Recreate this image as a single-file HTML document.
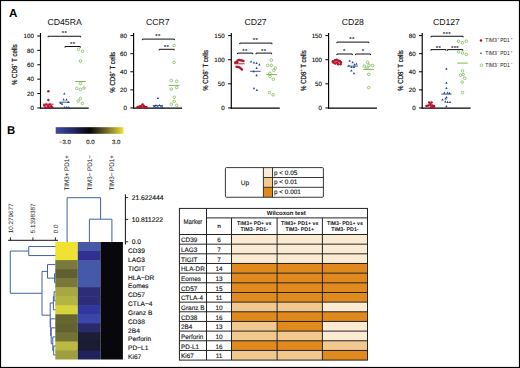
<!DOCTYPE html><html><head><meta charset="utf-8"><style>html,body{margin:0;padding:0;background:#fff;}svg{display:block;} text{text-rendering:geometricPrecision;}</style></head><body>
<svg width="520" height="368" viewBox="0 0 520 368" font-family='"Liberation Sans", sans-serif'>
<rect width="520" height="368" fill="#fff"/>
<text x="9" y="17.3" font-size="11.6" text-anchor="start" font-weight="bold" fill="#000" >A</text>
<line x1="40.5" y1="33" x2="40.5" y2="108.65" stroke="#000" stroke-width="1.15"/>
<line x1="40" y1="108.1" x2="88.75" y2="108.1" stroke="#000" stroke-width="1.4"/>
<line x1="37.3" y1="107.95" x2="40.5" y2="107.95" stroke="#000" stroke-width="1"/>
<text x="33.9" y="110.15" font-size="6.2" text-anchor="end" font-weight="normal" fill="#111" stroke="#111" stroke-width="0.14" >0</text>
<line x1="37.3" y1="93.56" x2="40.5" y2="93.56" stroke="#000" stroke-width="1"/>
<text x="33.9" y="95.76" font-size="6.2" text-anchor="end" font-weight="normal" fill="#111" stroke="#111" stroke-width="0.14" >20</text>
<line x1="37.3" y1="79.17" x2="40.5" y2="79.17" stroke="#000" stroke-width="1"/>
<text x="33.9" y="81.37" font-size="6.2" text-anchor="end" font-weight="normal" fill="#111" stroke="#111" stroke-width="0.14" >40</text>
<line x1="37.3" y1="64.78" x2="40.5" y2="64.78" stroke="#000" stroke-width="1"/>
<text x="33.9" y="66.98" font-size="6.2" text-anchor="end" font-weight="normal" fill="#111" stroke="#111" stroke-width="0.14" >60</text>
<line x1="37.3" y1="50.39" x2="40.5" y2="50.39" stroke="#000" stroke-width="1"/>
<text x="33.9" y="52.59" font-size="6.2" text-anchor="end" font-weight="normal" fill="#111" stroke="#111" stroke-width="0.14" >80</text>
<line x1="37.3" y1="36" x2="40.5" y2="36" stroke="#000" stroke-width="1"/>
<text x="33.9" y="38.2" font-size="6.2" text-anchor="end" font-weight="normal" fill="#111" stroke="#111" stroke-width="0.14" >100</text>
<text x="64.62" y="24.6" font-size="8.7" text-anchor="middle" font-weight="normal" fill="#111" >CD45RA</text>
<text transform="translate(17.1,64.7) rotate(-90)" font-size="7.4" text-anchor="middle" fill="#111" stroke="#111" stroke-width="0.18" textLength="40.8" lengthAdjust="spacingAndGlyphs">% CD8<tspan font-size="4.6" dy="-2.8">+</tspan><tspan dy="2.8"> T cells</tspan></text>
<path d="M48.1,37.35 V36.25 H80.6 V37.35" fill="none" stroke="#111" stroke-width="1"/>
<text x="64.6" y="35.2" font-size="6" text-anchor="middle" font-weight="bold" fill="#222" letter-spacing="0.4">**</text>
<path d="M65,47.6 V46.5 H80.3 V47.6" fill="none" stroke="#111" stroke-width="1"/>
<text x="72.8" y="45.55" font-size="6" text-anchor="middle" font-weight="bold" fill="#222" letter-spacing="0.4">**</text>
<circle cx="48.35" cy="91.3" r="1.25" fill="#b5102b"/>
<circle cx="48.35" cy="100" r="1.25" fill="#b5102b"/>
<circle cx="44.3" cy="105.6" r="1.25" fill="#b5102b"/>
<circle cx="46.3" cy="104.4" r="1.25" fill="#b5102b"/>
<circle cx="48.2" cy="106" r="1.25" fill="#b5102b"/>
<circle cx="49.8" cy="104.6" r="1.25" fill="#b5102b"/>
<circle cx="51.3" cy="106.3" r="1.25" fill="#b5102b"/>
<circle cx="52.3" cy="107.4" r="1.25" fill="#b5102b"/>
<circle cx="45.3" cy="107.4" r="1.25" fill="#b5102b"/>
<circle cx="47.5" cy="107.6" r="1.25" fill="#b5102b"/>
<circle cx="50" cy="107.6" r="1.25" fill="#b5102b"/>
<line x1="43" y1="104.2" x2="53.6" y2="104.2" stroke="#b5102b" stroke-width="0.9"/>
<path d="M64.3,92.4 L65.5,94.6 L63.1,94.6 Z" fill="#244a92"/>
<path d="M63.6,98.3 L64.8,100.5 L62.4,100.5 Z" fill="#244a92"/>
<path d="M66.5,98.3 L67.7,100.5 L65.3,100.5 Z" fill="#244a92"/>
<path d="M68.2,100.7 L69.4,102.9 L67,102.9 Z" fill="#244a92"/>
<path d="M60.6,101.8 L61.8,104 L59.4,104 Z" fill="#244a92"/>
<path d="M62,102.6 L63.2,104.8 L60.8,104.8 Z" fill="#244a92"/>
<path d="M64.7,106.1 L65.9,108.3 L63.5,108.3 Z" fill="#244a92"/>
<path d="M66.7,106.1 L67.9,108.3 L65.5,108.3 Z" fill="#244a92"/>
<path d="M68.8,106.1 L70,108.3 L67.6,108.3 Z" fill="#244a92"/>
<line x1="59.2" y1="102.2" x2="69.8" y2="102.2" stroke="#244a92" stroke-width="0.9"/>
<circle cx="78.5" cy="49.3" r="1.3" fill="none" stroke="#72b244" stroke-width="0.7"/>
<circle cx="82.5" cy="51.3" r="1.3" fill="none" stroke="#72b244" stroke-width="0.7"/>
<circle cx="80.4" cy="61.1" r="1.3" fill="none" stroke="#72b244" stroke-width="0.7"/>
<circle cx="80.4" cy="83.4" r="1.3" fill="none" stroke="#72b244" stroke-width="0.7"/>
<circle cx="76.8" cy="88.3" r="1.3" fill="none" stroke="#72b244" stroke-width="0.7"/>
<circle cx="80.4" cy="89.4" r="1.3" fill="none" stroke="#72b244" stroke-width="0.7"/>
<circle cx="84" cy="88" r="1.3" fill="none" stroke="#72b244" stroke-width="0.7"/>
<circle cx="80.4" cy="98.5" r="1.3" fill="none" stroke="#72b244" stroke-width="0.7"/>
<circle cx="78.2" cy="101.1" r="1.3" fill="none" stroke="#72b244" stroke-width="0.7"/>
<circle cx="82.4" cy="103.3" r="1.3" fill="none" stroke="#72b244" stroke-width="0.7"/>
<line x1="75.2" y1="81.5" x2="85.8" y2="81.5" stroke="#72b244" stroke-width="0.9"/>
<line x1="133.6" y1="33" x2="133.6" y2="108.65" stroke="#000" stroke-width="1.15"/>
<line x1="133.1" y1="108.1" x2="182.1" y2="108.1" stroke="#000" stroke-width="1.4"/>
<line x1="130.4" y1="107.95" x2="133.6" y2="107.95" stroke="#000" stroke-width="1"/>
<text x="127" y="110.15" font-size="6.2" text-anchor="end" font-weight="normal" fill="#111" stroke="#111" stroke-width="0.14" >0</text>
<line x1="130.4" y1="89.86" x2="133.6" y2="89.86" stroke="#000" stroke-width="1"/>
<text x="127" y="92.06" font-size="6.2" text-anchor="end" font-weight="normal" fill="#111" stroke="#111" stroke-width="0.14" >20</text>
<line x1="130.4" y1="71.78" x2="133.6" y2="71.78" stroke="#000" stroke-width="1"/>
<text x="127" y="73.98" font-size="6.2" text-anchor="end" font-weight="normal" fill="#111" stroke="#111" stroke-width="0.14" >40</text>
<line x1="130.4" y1="53.69" x2="133.6" y2="53.69" stroke="#000" stroke-width="1"/>
<text x="127" y="55.89" font-size="6.2" text-anchor="end" font-weight="normal" fill="#111" stroke="#111" stroke-width="0.14" >60</text>
<line x1="130.4" y1="35.6" x2="133.6" y2="35.6" stroke="#000" stroke-width="1"/>
<text x="127" y="37.8" font-size="6.2" text-anchor="end" font-weight="normal" fill="#111" stroke="#111" stroke-width="0.14" >80</text>
<text x="157.85" y="24.6" font-size="8.7" text-anchor="middle" font-weight="normal" fill="#111" >CCR7</text>
<text transform="translate(114.9,72.3) rotate(-90)" font-size="7.4" text-anchor="middle" fill="#111" stroke="#111" stroke-width="0.18" textLength="40.8" lengthAdjust="spacingAndGlyphs">% CD8<tspan font-size="4.6" dy="-2.8">+</tspan><tspan dy="2.8"> T cells</tspan></text>
<path d="M142.4,40.2 V39.1 H174.4 V40.2" fill="none" stroke="#111" stroke-width="1"/>
<text x="158.1" y="37.9" font-size="6" text-anchor="middle" font-weight="bold" fill="#222" letter-spacing="0.4">**</text>
<path d="M159.2,50.4 V49.3 H174.2 V50.4" fill="none" stroke="#111" stroke-width="1"/>
<text x="166.4" y="48.6" font-size="6" text-anchor="middle" font-weight="bold" fill="#222" letter-spacing="0.4">**</text>
<circle cx="137.6" cy="107" r="1.25" fill="#b5102b"/>
<circle cx="139.5" cy="106.4" r="1.25" fill="#b5102b"/>
<circle cx="141.2" cy="106" r="1.25" fill="#b5102b"/>
<circle cx="142.6" cy="104.4" r="1.25" fill="#b5102b"/>
<circle cx="143.8" cy="106" r="1.25" fill="#b5102b"/>
<circle cx="145.2" cy="107" r="1.25" fill="#b5102b"/>
<circle cx="146.5" cy="107.2" r="1.25" fill="#b5102b"/>
<circle cx="140.5" cy="107.5" r="1.25" fill="#b5102b"/>
<circle cx="144.5" cy="107.6" r="1.25" fill="#b5102b"/>
<line x1="136.9" y1="107" x2="146.9" y2="107" stroke="#b5102b" stroke-width="0.9"/>
<path d="M157.9,96.8 L159.1,99 L156.7,99 Z" fill="#244a92"/>
<path d="M154.3,105 L155.5,107.2 L153.1,107.2 Z" fill="#244a92"/>
<path d="M156,104 L157.2,106.2 L154.8,106.2 Z" fill="#244a92"/>
<path d="M157.8,105.5 L159,107.7 L156.6,107.7 Z" fill="#244a92"/>
<path d="M159.5,103.9 L160.7,106.1 L158.3,106.1 Z" fill="#244a92"/>
<path d="M161,105.2 L162.2,107.4 L159.8,107.4 Z" fill="#244a92"/>
<path d="M162.3,105.9 L163.5,108.1 L161.1,108.1 Z" fill="#244a92"/>
<path d="M155.5,106.2 L156.7,108.4 L154.3,108.4 Z" fill="#244a92"/>
<line x1="152.8" y1="105.6" x2="163" y2="105.6" stroke="#244a92" stroke-width="0.9"/>
<circle cx="174.1" cy="45.5" r="1.3" fill="none" stroke="#72b244" stroke-width="0.7"/>
<circle cx="174.1" cy="62.4" r="1.3" fill="none" stroke="#72b244" stroke-width="0.7"/>
<circle cx="171.3" cy="80.5" r="1.3" fill="none" stroke="#72b244" stroke-width="0.7"/>
<circle cx="176.7" cy="81.3" r="1.3" fill="none" stroke="#72b244" stroke-width="0.7"/>
<circle cx="171.3" cy="89.1" r="1.3" fill="none" stroke="#72b244" stroke-width="0.7"/>
<circle cx="176.7" cy="87.5" r="1.3" fill="none" stroke="#72b244" stroke-width="0.7"/>
<circle cx="174.2" cy="97.3" r="1.3" fill="none" stroke="#72b244" stroke-width="0.7"/>
<circle cx="174.2" cy="101.4" r="1.3" fill="none" stroke="#72b244" stroke-width="0.7"/>
<circle cx="171.3" cy="104.2" r="1.3" fill="none" stroke="#72b244" stroke-width="0.7"/>
<circle cx="176.7" cy="105.3" r="1.3" fill="none" stroke="#72b244" stroke-width="0.7"/>
<line x1="168.8" y1="85.4" x2="179.5" y2="85.4" stroke="#72b244" stroke-width="0.9"/>
<line x1="231.3" y1="33" x2="231.3" y2="108.65" stroke="#000" stroke-width="1.15"/>
<line x1="230.8" y1="108.1" x2="279.75" y2="108.1" stroke="#000" stroke-width="1.4"/>
<line x1="228.1" y1="107.95" x2="231.3" y2="107.95" stroke="#000" stroke-width="1"/>
<text x="224.7" y="110.15" font-size="6.2" text-anchor="end" font-weight="normal" fill="#111" stroke="#111" stroke-width="0.14" >0</text>
<line x1="228.1" y1="83.83" x2="231.3" y2="83.83" stroke="#000" stroke-width="1"/>
<text x="224.7" y="86.03" font-size="6.2" text-anchor="end" font-weight="normal" fill="#111" stroke="#111" stroke-width="0.14" >50</text>
<line x1="228.1" y1="59.72" x2="231.3" y2="59.72" stroke="#000" stroke-width="1"/>
<text x="224.7" y="61.92" font-size="6.2" text-anchor="end" font-weight="normal" fill="#111" stroke="#111" stroke-width="0.14" >100</text>
<line x1="228.1" y1="35.6" x2="231.3" y2="35.6" stroke="#000" stroke-width="1"/>
<text x="224.7" y="37.8" font-size="6.2" text-anchor="end" font-weight="normal" fill="#111" stroke="#111" stroke-width="0.14" >150</text>
<text x="255.53" y="24.6" font-size="8.7" text-anchor="middle" font-weight="normal" fill="#111" >CD27</text>
<text transform="translate(208.2,70.4) rotate(-90)" font-size="7.4" text-anchor="middle" fill="#111" stroke="#111" stroke-width="0.18" textLength="40.8" lengthAdjust="spacingAndGlyphs">% CD8<tspan font-size="4.6" dy="-2.8">+</tspan><tspan dy="2.8"> T cells</tspan></text>
<path d="M239.8,44.2 V43.1 H271.9 V44.2" fill="none" stroke="#111" stroke-width="1"/>
<text x="255.6" y="42.05" font-size="6" text-anchor="middle" font-weight="bold" fill="#222" letter-spacing="0.4">**</text>
<path d="M237.5,54.2 V53.1 H252.8 V54.2" fill="none" stroke="#111" stroke-width="1"/>
<text x="245" y="52.8" font-size="6" text-anchor="middle" font-weight="bold" fill="#222" letter-spacing="0.4">**</text>
<path d="M256,54.2 V53.1 H271.6 V54.2" fill="none" stroke="#111" stroke-width="1"/>
<text x="263.8" y="52.8" font-size="6" text-anchor="middle" font-weight="bold" fill="#222" letter-spacing="0.4">**</text>
<circle cx="237.6" cy="60.4" r="1.25" fill="#b5102b"/>
<circle cx="239" cy="60.1" r="1.25" fill="#b5102b"/>
<circle cx="240.5" cy="60.2" r="1.25" fill="#b5102b"/>
<circle cx="242" cy="60.5" r="1.25" fill="#b5102b"/>
<circle cx="243.4" cy="61" r="1.25" fill="#b5102b"/>
<circle cx="235.3" cy="62.6" r="1.25" fill="#b5102b"/>
<circle cx="236.3" cy="62.2" r="1.25" fill="#b5102b"/>
<circle cx="237.2" cy="62.6" r="1.25" fill="#b5102b"/>
<circle cx="236.6" cy="66.7" r="1.25" fill="#b5102b"/>
<circle cx="238" cy="67" r="1.25" fill="#b5102b"/>
<circle cx="239.5" cy="67.5" r="1.25" fill="#b5102b"/>
<circle cx="240.8" cy="68.4" r="1.25" fill="#b5102b"/>
<circle cx="241.9" cy="69.5" r="1.25" fill="#b5102b"/>
<line x1="234.4" y1="63.8" x2="244.7" y2="63.8" stroke="#b5102b" stroke-width="0.9"/>
<path d="M251.1,60.3 L252.3,62.5 L249.9,62.5 Z" fill="#244a92"/>
<path d="M253.9,61.3 L255.1,63.5 L252.7,63.5 Z" fill="#244a92"/>
<path d="M256.6,61.8 L257.8,64 L255.4,64 Z" fill="#244a92"/>
<path d="M259.4,63.2 L260.6,65.4 L258.2,65.4 Z" fill="#244a92"/>
<path d="M256.6,66.7 L257.8,68.9 L255.4,68.9 Z" fill="#244a92"/>
<path d="M253.7,70 L254.9,72.2 L252.5,72.2 Z" fill="#244a92"/>
<path d="M256.6,74.1 L257.8,76.3 L255.4,76.3 Z" fill="#244a92"/>
<path d="M254,87 L255.2,89.2 L252.8,89.2 Z" fill="#244a92"/>
<path d="M256.9,88.7 L258.1,90.9 L255.7,90.9 Z" fill="#244a92"/>
<line x1="250.1" y1="71.3" x2="260.7" y2="71.3" stroke="#244a92" stroke-width="0.9"/>
<circle cx="271.3" cy="60.2" r="1.3" fill="none" stroke="#72b244" stroke-width="0.7"/>
<circle cx="267.6" cy="65.4" r="1.3" fill="none" stroke="#72b244" stroke-width="0.7"/>
<circle cx="271.3" cy="65.4" r="1.3" fill="none" stroke="#72b244" stroke-width="0.7"/>
<circle cx="275.3" cy="68.1" r="1.3" fill="none" stroke="#72b244" stroke-width="0.7"/>
<circle cx="273.8" cy="70.3" r="1.3" fill="none" stroke="#72b244" stroke-width="0.7"/>
<circle cx="269.9" cy="73.3" r="1.3" fill="none" stroke="#72b244" stroke-width="0.7"/>
<circle cx="269.9" cy="76.4" r="1.3" fill="none" stroke="#72b244" stroke-width="0.7"/>
<circle cx="273.3" cy="79.2" r="1.3" fill="none" stroke="#72b244" stroke-width="0.7"/>
<circle cx="269.4" cy="92.5" r="1.3" fill="none" stroke="#72b244" stroke-width="0.7"/>
<circle cx="273.1" cy="94.75" r="1.3" fill="none" stroke="#72b244" stroke-width="0.7"/>
<line x1="266.2" y1="74.6" x2="276.8" y2="74.6" stroke="#72b244" stroke-width="0.9"/>
<line x1="328.6" y1="33" x2="328.6" y2="108.65" stroke="#000" stroke-width="1.15"/>
<line x1="328.1" y1="108.1" x2="376.9" y2="108.1" stroke="#000" stroke-width="1.4"/>
<line x1="325.4" y1="107.95" x2="328.6" y2="107.95" stroke="#000" stroke-width="1"/>
<text x="322" y="110.15" font-size="6.2" text-anchor="end" font-weight="normal" fill="#111" stroke="#111" stroke-width="0.14" >0</text>
<line x1="325.4" y1="83.83" x2="328.6" y2="83.83" stroke="#000" stroke-width="1"/>
<text x="322" y="86.03" font-size="6.2" text-anchor="end" font-weight="normal" fill="#111" stroke="#111" stroke-width="0.14" >50</text>
<line x1="325.4" y1="59.72" x2="328.6" y2="59.72" stroke="#000" stroke-width="1"/>
<text x="322" y="61.92" font-size="6.2" text-anchor="end" font-weight="normal" fill="#111" stroke="#111" stroke-width="0.14" >100</text>
<line x1="325.4" y1="35.6" x2="328.6" y2="35.6" stroke="#000" stroke-width="1"/>
<text x="322" y="37.8" font-size="6.2" text-anchor="end" font-weight="normal" fill="#111" stroke="#111" stroke-width="0.14" >150</text>
<text x="352.75" y="24.6" font-size="8.7" text-anchor="middle" font-weight="normal" fill="#111" >CD28</text>
<text transform="translate(305.7,70.6) rotate(-90)" font-size="7.4" text-anchor="middle" fill="#111" stroke="#111" stroke-width="0.18" textLength="40.8" lengthAdjust="spacingAndGlyphs">% CD8<tspan font-size="4.6" dy="-2.8">+</tspan><tspan dy="2.8"> T cells</tspan></text>
<path d="M336.9,43.2 V42.1 H368.8 V43.2" fill="none" stroke="#111" stroke-width="1"/>
<text x="351.9" y="40.5" font-size="6" text-anchor="middle" font-weight="bold" fill="#222" letter-spacing="0.4">**</text>
<path d="M336.9,55.1 V54 H352.3 V55.1" fill="none" stroke="#111" stroke-width="1"/>
<text x="344.4" y="53.05" font-size="6" text-anchor="middle" font-weight="bold" fill="#222" letter-spacing="0.4">*</text>
<path d="M355.6,55.1 V54 H370.6 V55.1" fill="none" stroke="#111" stroke-width="1"/>
<text x="363.1" y="53.05" font-size="6" text-anchor="middle" font-weight="bold" fill="#222" letter-spacing="0.4">*</text>
<circle cx="333" cy="61.2" r="1.25" fill="#b5102b"/>
<circle cx="335" cy="60.3" r="1.25" fill="#b5102b"/>
<circle cx="336.6" cy="59.8" r="1.25" fill="#b5102b"/>
<circle cx="338.4" cy="60.6" r="1.25" fill="#b5102b"/>
<circle cx="340" cy="61.3" r="1.25" fill="#b5102b"/>
<circle cx="341" cy="62.6" r="1.25" fill="#b5102b"/>
<circle cx="333.3" cy="62.6" r="1.25" fill="#b5102b"/>
<circle cx="335.2" cy="63.6" r="1.25" fill="#b5102b"/>
<circle cx="337.2" cy="62.8" r="1.25" fill="#b5102b"/>
<circle cx="338.1" cy="64.3" r="1.25" fill="#b5102b"/>
<circle cx="340.5" cy="64.3" r="1.25" fill="#b5102b"/>
<line x1="331.5" y1="62" x2="341.5" y2="62" stroke="#b5102b" stroke-width="0.9"/>
<path d="M349.7,59.6 L350.9,61.8 L348.5,61.8 Z" fill="#244a92"/>
<path d="M352.6,61.1 L353.8,63.3 L351.4,63.3 Z" fill="#244a92"/>
<path d="M356.4,62.5 L357.6,64.7 L355.2,64.7 Z" fill="#244a92"/>
<path d="M354.5,63.2 L355.7,65.4 L353.3,65.4 Z" fill="#244a92"/>
<path d="M348.8,64.4 L350,66.6 L347.6,66.6 Z" fill="#244a92"/>
<path d="M351.5,65.7 L352.7,67.9 L350.3,67.9 Z" fill="#244a92"/>
<path d="M354,65.7 L355.2,67.9 L352.8,67.9 Z" fill="#244a92"/>
<path d="M351.3,69.3 L352.5,71.5 L350.1,71.5 Z" fill="#244a92"/>
<path d="M354,72.1 L355.2,74.3 L352.8,74.3 Z" fill="#244a92"/>
<line x1="347.3" y1="66.1" x2="358" y2="66.1" stroke="#244a92" stroke-width="0.9"/>
<circle cx="367.7" cy="62.4" r="1.3" fill="none" stroke="#72b244" stroke-width="0.7"/>
<circle cx="364.2" cy="66" r="1.3" fill="none" stroke="#72b244" stroke-width="0.7"/>
<circle cx="369" cy="65.2" r="1.3" fill="none" stroke="#72b244" stroke-width="0.7"/>
<circle cx="372.5" cy="65.5" r="1.3" fill="none" stroke="#72b244" stroke-width="0.7"/>
<circle cx="367" cy="68" r="1.3" fill="none" stroke="#72b244" stroke-width="0.7"/>
<circle cx="368.7" cy="74.3" r="1.3" fill="none" stroke="#72b244" stroke-width="0.7"/>
<circle cx="368.7" cy="87.6" r="1.3" fill="none" stroke="#72b244" stroke-width="0.7"/>
<line x1="363.2" y1="69.4" x2="374.1" y2="69.4" stroke="#72b244" stroke-width="0.9"/>
<line x1="422.2" y1="33" x2="422.2" y2="108.65" stroke="#000" stroke-width="1.15"/>
<line x1="421.7" y1="108.1" x2="470.6" y2="108.1" stroke="#000" stroke-width="1.4"/>
<line x1="419" y1="107.95" x2="422.2" y2="107.95" stroke="#000" stroke-width="1"/>
<text x="415.6" y="110.15" font-size="6.2" text-anchor="end" font-weight="normal" fill="#111" stroke="#111" stroke-width="0.14" >0</text>
<line x1="419" y1="89.86" x2="422.2" y2="89.86" stroke="#000" stroke-width="1"/>
<text x="415.6" y="92.06" font-size="6.2" text-anchor="end" font-weight="normal" fill="#111" stroke="#111" stroke-width="0.14" >20</text>
<line x1="419" y1="71.78" x2="422.2" y2="71.78" stroke="#000" stroke-width="1"/>
<text x="415.6" y="73.98" font-size="6.2" text-anchor="end" font-weight="normal" fill="#111" stroke="#111" stroke-width="0.14" >40</text>
<line x1="419" y1="53.69" x2="422.2" y2="53.69" stroke="#000" stroke-width="1"/>
<text x="415.6" y="55.89" font-size="6.2" text-anchor="end" font-weight="normal" fill="#111" stroke="#111" stroke-width="0.14" >60</text>
<line x1="419" y1="35.6" x2="422.2" y2="35.6" stroke="#000" stroke-width="1"/>
<text x="415.6" y="37.8" font-size="6.2" text-anchor="end" font-weight="normal" fill="#111" stroke="#111" stroke-width="0.14" >80</text>
<text x="446.4" y="24.6" font-size="8.7" text-anchor="middle" font-weight="normal" fill="#111" >CD127</text>
<text transform="translate(403.2,70.5) rotate(-90)" font-size="7.4" text-anchor="middle" fill="#111" stroke="#111" stroke-width="0.18" textLength="40.8" lengthAdjust="spacingAndGlyphs">% CD8<tspan font-size="4.6" dy="-2.8">+</tspan><tspan dy="2.8"> T cells</tspan></text>
<path d="M431,37.35 V36.25 H463.1 V37.35" fill="none" stroke="#111" stroke-width="1"/>
<text x="446.9" y="36.2" font-size="6" text-anchor="middle" font-weight="bold" fill="#222" letter-spacing="0.4">***</text>
<path d="M431,50.7 V49.6 H446 V50.7" fill="none" stroke="#111" stroke-width="1"/>
<text x="438.5" y="49.8" font-size="6" text-anchor="middle" font-weight="bold" fill="#222" letter-spacing="0.4">**</text>
<path d="M447.5,50.7 V49.6 H462.8 V50.7" fill="none" stroke="#111" stroke-width="1"/>
<text x="455" y="49.8" font-size="6" text-anchor="middle" font-weight="bold" fill="#222" letter-spacing="0.4">***</text>
<circle cx="429.2" cy="102.6" r="1.25" fill="#b5102b"/>
<circle cx="431.5" cy="102.6" r="1.25" fill="#b5102b"/>
<circle cx="430.4" cy="104.2" r="1.25" fill="#b5102b"/>
<circle cx="426.6" cy="106" r="1.25" fill="#b5102b"/>
<circle cx="428.2" cy="105.6" r="1.25" fill="#b5102b"/>
<circle cx="432.6" cy="105.6" r="1.25" fill="#b5102b"/>
<circle cx="434" cy="106.3" r="1.25" fill="#b5102b"/>
<circle cx="431" cy="107.2" r="1.25" fill="#b5102b"/>
<circle cx="433" cy="107.5" r="1.25" fill="#b5102b"/>
<line x1="425.5" y1="105.6" x2="435" y2="105.6" stroke="#b5102b" stroke-width="0.9"/>
<path d="M446.4,67.6 L447.6,69.8 L445.2,69.8 Z" fill="#244a92"/>
<path d="M446.4,81.6 L447.6,83.8 L445.2,83.8 Z" fill="#244a92"/>
<path d="M446.4,86.8 L447.6,89 L445.2,89 Z" fill="#244a92"/>
<path d="M444.4,91.6 L445.6,93.8 L443.2,93.8 Z" fill="#244a92"/>
<path d="M447.6,91.6 L448.8,93.8 L446.4,93.8 Z" fill="#244a92"/>
<path d="M449.5,91.8 L450.7,94 L448.3,94 Z" fill="#244a92"/>
<path d="M445.6,97.3 L446.8,99.5 L444.4,99.5 Z" fill="#244a92"/>
<path d="M446.6,96 L447.8,98.2 L445.4,98.2 Z" fill="#244a92"/>
<path d="M442.5,98.3 L443.7,100.5 L441.3,100.5 Z" fill="#244a92"/>
<path d="M445.4,100.3 L446.6,102.5 L444.2,102.5 Z" fill="#244a92"/>
<path d="M447.6,100.8 L448.8,103 L446.4,103 Z" fill="#244a92"/>
<path d="M450,100.8 L451.2,103 L448.8,103 Z" fill="#244a92"/>
<path d="M446.4,105.1 L447.6,107.3 L445.2,107.3 Z" fill="#244a92"/>
<line x1="441.25" y1="94.1" x2="451.5" y2="94.1" stroke="#244a92" stroke-width="0.9"/>
<circle cx="458.5" cy="41.25" r="1.3" fill="none" stroke="#72b244" stroke-width="0.7"/>
<circle cx="462.5" cy="42.75" r="1.3" fill="none" stroke="#72b244" stroke-width="0.7"/>
<circle cx="466.25" cy="41.25" r="1.3" fill="none" stroke="#72b244" stroke-width="0.7"/>
<circle cx="458.5" cy="51.9" r="1.3" fill="none" stroke="#72b244" stroke-width="0.7"/>
<circle cx="462.5" cy="53.1" r="1.3" fill="none" stroke="#72b244" stroke-width="0.7"/>
<circle cx="466.25" cy="54.4" r="1.3" fill="none" stroke="#72b244" stroke-width="0.7"/>
<circle cx="462.5" cy="70.9" r="1.3" fill="none" stroke="#72b244" stroke-width="0.7"/>
<circle cx="460.5" cy="75.2" r="1.3" fill="none" stroke="#72b244" stroke-width="0.7"/>
<circle cx="463.1" cy="74.6" r="1.3" fill="none" stroke="#72b244" stroke-width="0.7"/>
<circle cx="464.8" cy="78.2" r="1.3" fill="none" stroke="#72b244" stroke-width="0.7"/>
<circle cx="462.2" cy="82.1" r="1.3" fill="none" stroke="#72b244" stroke-width="0.7"/>
<circle cx="462.5" cy="92.5" r="1.3" fill="none" stroke="#72b244" stroke-width="0.7"/>
<line x1="457.25" y1="63.1" x2="467.75" y2="63.1" stroke="#72b244" stroke-width="0.9"/>
<circle cx="481" cy="40.6" r="1.25" fill="#b5102b"/>
<path d="M481,52 L482.05,53.9 L479.95,53.9 Z" fill="#244a92"/>
<circle cx="481.5" cy="65.25" r="1.3" fill="none" stroke="#72b244" stroke-width="0.7"/>
<text x="485.3" y="42.3" font-size="5.8" fill="#222" textLength="11.6" lengthAdjust="spacingAndGlyphs">TIM3</text>
<text x="497.3" y="40.0" font-size="3.6" fill="#222">+</text>
<text x="500.3" y="42.3" font-size="5.8" fill="#222" textLength="9.4" lengthAdjust="spacingAndGlyphs">PD1</text>
<text x="510.6" y="40.0" font-size="3.6" fill="#222">+</text>
<text x="485.3" y="54.8" font-size="5.8" fill="#222" textLength="11.6" lengthAdjust="spacingAndGlyphs">TIM3</text>
<text x="497.3" y="52.5" font-size="3.6" fill="#222">−</text>
<text x="500.3" y="54.8" font-size="5.8" fill="#222" textLength="9.4" lengthAdjust="spacingAndGlyphs">PD1</text>
<text x="510.6" y="52.5" font-size="3.6" fill="#222">+</text>
<text x="485.3" y="66.9" font-size="5.8" fill="#222" textLength="11.6" lengthAdjust="spacingAndGlyphs">TIM3</text>
<text x="497.3" y="64.60000000000001" font-size="3.6" fill="#222">−</text>
<text x="500.3" y="66.9" font-size="5.8" fill="#222" textLength="9.4" lengthAdjust="spacingAndGlyphs">PD1</text>
<text x="510.6" y="64.60000000000001" font-size="3.6" fill="#222">−</text>
<text x="6.9" y="134.2" font-size="11.4" text-anchor="start" font-weight="bold" fill="#000" >B</text>
<defs><linearGradient id="cb" x1="0" x2="1" y1="0" y2="0"><stop offset="0" stop-color="#3c4ca0"/><stop offset="0.25" stop-color="#232a66"/><stop offset="0.5" stop-color="#050505"/><stop offset="0.75" stop-color="#6e6a2a"/><stop offset="1" stop-color="#f0e233"/></linearGradient></defs>
<rect x="55.7" y="127.2" width="67.8" height="6.6" fill="url(#cb)"/>
<text x="64.9" y="144.3" font-size="6" text-anchor="middle" font-weight="normal" fill="#222" stroke="#222" stroke-width="0.14" >−3.0</text>
<text x="90.3" y="144.3" font-size="6" text-anchor="middle" font-weight="normal" fill="#222" stroke="#222" stroke-width="0.14" >0.0</text>
<text x="116.2" y="144.3" font-size="6" text-anchor="middle" font-weight="normal" fill="#222" stroke="#222" stroke-width="0.14" >3.0</text>
<text transform="translate(69.3,190.5) rotate(-90)" font-size="6.7" fill="#111" textLength="35.4" lengthAdjust="spacingAndGlyphs">TIM3+ PD1+</text>
<text transform="translate(91.6,190.5) rotate(-90)" font-size="6.7" fill="#111" textLength="35.4" lengthAdjust="spacingAndGlyphs">TIM3− PD1−</text>
<text transform="translate(113.9,190.5) rotate(-90)" font-size="6.7" fill="#111" textLength="35.4" lengthAdjust="spacingAndGlyphs">TIM3− PD1+</text>
<path d="M67.1,242 V197.7 H100.6 V219.2 M89.4,242 V219.2 H111.9 V242" fill="none" stroke="#4262a2" stroke-width="1"/>
<line x1="125.4" y1="194.3" x2="125.4" y2="244.5" stroke="#111" stroke-width="1"/>
<line x1="125.4" y1="197.6" x2="128.2" y2="197.6" stroke="#111" stroke-width="0.9"/>
<text x="131.7" y="199.95" font-size="6.75" text-anchor="start" font-weight="normal" fill="#111" stroke="#111" stroke-width="0.14" >21.622444</text>
<line x1="125.4" y1="219.4" x2="128.2" y2="219.4" stroke="#111" stroke-width="0.9"/>
<text x="131.7" y="221.75" font-size="6.75" text-anchor="start" font-weight="normal" fill="#111" stroke="#111" stroke-width="0.14" >10.811222</text>
<line x1="125.4" y1="241.8" x2="128.2" y2="241.8" stroke="#111" stroke-width="0.9"/>
<text x="131.7" y="244.15" font-size="6.75" text-anchor="start" font-weight="normal" fill="#111" stroke="#111" stroke-width="0.14" >0.0</text>
<line x1="8.1" y1="240.3" x2="57.9" y2="240.3" stroke="#111" stroke-width="1"/>
<line x1="10.4" y1="237.4" x2="10.4" y2="240.3" stroke="#111" stroke-width="0.9"/>
<text transform="translate(12.7,233.2) rotate(-90)" font-size="6.3" fill="#222">10.279677</text>
<line x1="32.9" y1="237.4" x2="32.9" y2="240.3" stroke="#111" stroke-width="0.9"/>
<text transform="translate(35.2,233.2) rotate(-90)" font-size="6.3" fill="#222">5.1398387</text>
<line x1="55.4" y1="237.4" x2="55.4" y2="240.3" stroke="#111" stroke-width="0.9"/>
<text transform="translate(57.7,233.2) rotate(-90)" font-size="6.3" fill="#222">0.0</text>
<rect x="55.3" y="242" width="22.5" height="18.68" fill="#f0e233"/>
<rect x="55.3" y="260.08" width="22.5" height="9.64" fill="#7a7a3a"/>
<rect x="55.3" y="269.12" width="22.5" height="9.64" fill="#5f6030"/>
<rect x="55.3" y="278.15" width="22.5" height="9.64" fill="#78783a"/>
<rect x="55.3" y="287.19" width="22.5" height="9.64" fill="#a8a842"/>
<rect x="55.3" y="296.23" width="22.5" height="9.64" fill="#b4b442"/>
<rect x="55.3" y="305.27" width="22.5" height="9.64" fill="#d4d43c"/>
<rect x="55.3" y="314.31" width="22.5" height="9.64" fill="#66662f"/>
<rect x="55.3" y="323.35" width="22.5" height="9.64" fill="#626230"/>
<rect x="55.3" y="332.38" width="22.5" height="9.64" fill="#727236"/>
<rect x="55.3" y="341.42" width="22.5" height="9.64" fill="#bab842"/>
<rect x="55.3" y="350.46" width="22.5" height="9.04" fill="#9e9e3e"/>
<rect x="77.8" y="242" width="22.7" height="9.64" fill="#4658a8"/>
<rect x="77.8" y="251.04" width="22.7" height="9.64" fill="#303090"/>
<rect x="77.8" y="260.08" width="22.7" height="27.72" fill="#4658a8"/>
<rect x="77.8" y="287.19" width="22.7" height="9.64" fill="#2c2d76"/>
<rect x="77.8" y="296.23" width="22.7" height="9.64" fill="#2c2e78"/>
<rect x="77.8" y="305.27" width="22.7" height="9.64" fill="#3038a0"/>
<rect x="77.8" y="314.31" width="22.7" height="9.64" fill="#3a46aa"/>
<rect x="77.8" y="323.35" width="22.7" height="9.64" fill="#2a2a6a"/>
<rect x="77.8" y="332.38" width="22.7" height="9.64" fill="#1c1e34"/>
<rect x="77.8" y="341.42" width="22.7" height="9.64" fill="#1a1c32"/>
<rect x="77.8" y="350.46" width="22.7" height="9.04" fill="#20205a"/>
<rect x="100.5" y="242" width="22.400000000000006" height="117.5" fill="#08080c"/>
<text x="128.1" y="253.1" font-size="6.6" text-anchor="start" font-weight="normal" fill="#111" stroke="#111" stroke-width="0.14" >CD39</text>
<text x="128.1" y="261.93" font-size="6.6" text-anchor="start" font-weight="normal" fill="#111" stroke="#111" stroke-width="0.14" >LAG3</text>
<text x="128.1" y="270.76" font-size="6.6" text-anchor="start" font-weight="normal" fill="#111" stroke="#111" stroke-width="0.14" >TIGIT</text>
<text x="128.1" y="279.59" font-size="6.6" text-anchor="start" font-weight="normal" fill="#111" stroke="#111" stroke-width="0.14" >HLA−DR</text>
<text x="128.1" y="288.42" font-size="6.6" text-anchor="start" font-weight="normal" fill="#111" stroke="#111" stroke-width="0.14" >Eomes</text>
<text x="128.1" y="297.25" font-size="6.6" text-anchor="start" font-weight="normal" fill="#111" stroke="#111" stroke-width="0.14" >CD57</text>
<text x="128.1" y="306.08" font-size="6.6" text-anchor="start" font-weight="normal" fill="#111" stroke="#111" stroke-width="0.14" >CTLA−4</text>
<text x="128.1" y="314.91" font-size="6.6" text-anchor="start" font-weight="normal" fill="#111" stroke="#111" stroke-width="0.14" >Granz B</text>
<text x="128.1" y="323.74" font-size="6.6" text-anchor="start" font-weight="normal" fill="#111" stroke="#111" stroke-width="0.14" >CD38</text>
<text x="128.1" y="332.57" font-size="6.6" text-anchor="start" font-weight="normal" fill="#111" stroke="#111" stroke-width="0.14" >2B4</text>
<text x="128.1" y="341.4" font-size="6.6" text-anchor="start" font-weight="normal" fill="#111" stroke="#111" stroke-width="0.14" >Perforin</text>
<text x="128.1" y="350.23" font-size="6.6" text-anchor="start" font-weight="normal" fill="#111" stroke="#111" stroke-width="0.14" >PD−L1</text>
<text x="128.1" y="359.06" font-size="6.6" text-anchor="start" font-weight="normal" fill="#111" stroke="#111" stroke-width="0.14" >Ki67</text>
<path d="M55.5,246.52 H28.75 V255.56 H55.5 M55.5,273.63 H54.6 V282.67 H55.5 M54.6,278.15 H47.5 V264.6 H55.5 M55.5,291.71 H54.1 V300.75 H55.5 M54.1,296.23 H53.4 V309.79 H55.5 M55.5,345.94 H53.7 V354.98 H55.5 M53.7,350.46 H52.8 V336.9 H55.5 M52.8,343.68 H51.2 V327.87 H55.5 M51.2,335.77 H50.6 V318.83 H55.5 M53.4,303.01 H50.2 V327.3 H50.6 M47.5,271.38 H42 V315.16 H50.2 M28.75,251.04 H10.25 V293.27 H42" fill="none" stroke="#4262a2" stroke-width="1"/>
<rect x="263.4" y="167.6" width="9.1" height="9.9" fill="#fbebd3"/>
<rect x="263.4" y="177.5" width="9.1" height="9.8" fill="#f1c98f"/>
<rect x="263.4" y="187.3" width="9.1" height="9.95" fill="#e08a1e"/>
<rect x="225.4" y="167.6" width="98" height="29.65" rx="1" fill="none" stroke="#222" stroke-width="0.9"/>
<line x1="263.4" y1="167.6" x2="263.4" y2="197.25" stroke="#222" stroke-width="0.9"/>
<line x1="272.5" y1="167.6" x2="272.5" y2="197.25" stroke="#222" stroke-width="0.9"/>
<line x1="263.4" y1="177.5" x2="323.4" y2="177.5" stroke="#222" stroke-width="0.9"/>
<line x1="263.4" y1="187.3" x2="323.4" y2="187.3" stroke="#222" stroke-width="0.9"/>
<text x="244.9" y="184.6" font-size="6.6" text-anchor="middle" font-weight="normal" fill="#222" stroke="#222" stroke-width="0.14" >Up</text>
<text x="274" y="174.5" font-size="6.4" text-anchor="start" font-weight="normal" fill="#222" stroke="#222" stroke-width="0.14" >p &lt; 0.05</text>
<text x="274" y="184.2" font-size="6.4" text-anchor="start" font-weight="normal" fill="#222" stroke="#222" stroke-width="0.14" >p &lt; 0.01</text>
<text x="274" y="194" font-size="6.4" text-anchor="start" font-weight="normal" fill="#222" stroke="#222" stroke-width="0.14" >p &lt; 0.001</text>
<rect x="231.5" y="234.5" width="45.6" height="9.66" fill="#fbebd3"/>
<rect x="277.1" y="234.5" width="45.3" height="9.66" fill="#fbebd3"/>
<rect x="322.4" y="234.5" width="45.1" height="9.66" fill="#fbebd3"/>
<rect x="231.5" y="244.16" width="45.6" height="9.66" fill="#fbebd3"/>
<rect x="277.1" y="244.16" width="45.3" height="9.66" fill="#fbebd3"/>
<rect x="322.4" y="244.16" width="45.1" height="9.66" fill="#fbebd3"/>
<rect x="231.5" y="253.82" width="45.6" height="9.66" fill="#fbebd3"/>
<rect x="277.1" y="253.82" width="45.3" height="9.66" fill="#fbebd3"/>
<rect x="322.4" y="253.82" width="45.1" height="9.66" fill="#fbebd3"/>
<rect x="231.5" y="263.48" width="45.6" height="9.66" fill="#e08a1e"/>
<rect x="277.1" y="263.48" width="45.3" height="9.66" fill="#e08a1e"/>
<rect x="322.4" y="263.48" width="45.1" height="9.66" fill="#e08a1e"/>
<rect x="231.5" y="273.15" width="45.6" height="9.66" fill="#e08a1e"/>
<rect x="277.1" y="273.15" width="45.3" height="9.66" fill="#e08a1e"/>
<rect x="322.4" y="273.15" width="45.1" height="9.66" fill="#e08a1e"/>
<rect x="231.5" y="282.81" width="45.6" height="9.66" fill="#e08a1e"/>
<rect x="277.1" y="282.81" width="45.3" height="9.66" fill="#e08a1e"/>
<rect x="322.4" y="282.81" width="45.1" height="9.66" fill="#e08a1e"/>
<rect x="231.5" y="292.47" width="45.6" height="9.66" fill="#e08a1e"/>
<rect x="277.1" y="292.47" width="45.3" height="9.66" fill="#e08a1e"/>
<rect x="322.4" y="292.47" width="45.1" height="9.66" fill="#e08a1e"/>
<rect x="231.5" y="302.13" width="45.6" height="9.66" fill="#f1c98f"/>
<rect x="277.1" y="302.13" width="45.3" height="9.66" fill="#f1c98f"/>
<rect x="322.4" y="302.13" width="45.1" height="9.66" fill="#fbebd3"/>
<rect x="231.5" y="311.79" width="45.6" height="9.66" fill="#e08a1e"/>
<rect x="277.1" y="311.79" width="45.3" height="9.66" fill="#e08a1e"/>
<rect x="322.4" y="311.79" width="45.1" height="9.66" fill="#e08a1e"/>
<rect x="231.5" y="321.45" width="45.6" height="9.66" fill="#f1c98f"/>
<rect x="277.1" y="321.45" width="45.3" height="9.66" fill="#e08a1e"/>
<rect x="322.4" y="321.45" width="45.1" height="9.66" fill="#fbebd3"/>
<rect x="231.5" y="331.12" width="45.6" height="9.66" fill="#f1c98f"/>
<rect x="277.1" y="331.12" width="45.3" height="9.66" fill="#f1c98f"/>
<rect x="322.4" y="331.12" width="45.1" height="9.66" fill="#fbebd3"/>
<rect x="231.5" y="340.78" width="45.6" height="9.66" fill="#e08a1e"/>
<rect x="277.1" y="340.78" width="45.3" height="9.66" fill="#e08a1e"/>
<rect x="322.4" y="340.78" width="45.1" height="9.66" fill="#f1c98f"/>
<rect x="231.5" y="350.44" width="45.6" height="9.66" fill="#f1c98f"/>
<rect x="277.1" y="350.44" width="45.3" height="9.66" fill="#f1c98f"/>
<rect x="322.4" y="350.44" width="45.1" height="9.66" fill="#e08a1e"/>
<rect x="179.4" y="208.4" width="188.1" height="151.7" fill="none" stroke="#1a1a1a" stroke-width="0.95"/>
<line x1="206.5" y1="208.4" x2="206.5" y2="360.1" stroke="#1a1a1a" stroke-width="0.95"/>
<line x1="206.5" y1="217.9" x2="367.5" y2="217.9" stroke="#1a1a1a" stroke-width="0.95"/>
<line x1="231.5" y1="217.9" x2="231.5" y2="360.1" stroke="#1a1a1a" stroke-width="0.95"/>
<line x1="277.1" y1="217.9" x2="277.1" y2="360.1" stroke="#1a1a1a" stroke-width="0.95"/>
<line x1="322.4" y1="217.9" x2="322.4" y2="360.1" stroke="#1a1a1a" stroke-width="0.95"/>
<line x1="179.4" y1="234.5" x2="367.5" y2="234.5" stroke="#1a1a1a" stroke-width="0.95"/>
<line x1="179.4" y1="244.16" x2="367.5" y2="244.16" stroke="#1a1a1a" stroke-width="0.95"/>
<line x1="179.4" y1="253.82" x2="367.5" y2="253.82" stroke="#1a1a1a" stroke-width="0.95"/>
<line x1="179.4" y1="263.48" x2="367.5" y2="263.48" stroke="#1a1a1a" stroke-width="0.95"/>
<line x1="179.4" y1="273.15" x2="367.5" y2="273.15" stroke="#1a1a1a" stroke-width="0.95"/>
<line x1="179.4" y1="282.81" x2="367.5" y2="282.81" stroke="#1a1a1a" stroke-width="0.95"/>
<line x1="179.4" y1="292.47" x2="367.5" y2="292.47" stroke="#1a1a1a" stroke-width="0.95"/>
<line x1="179.4" y1="302.13" x2="367.5" y2="302.13" stroke="#1a1a1a" stroke-width="0.95"/>
<line x1="179.4" y1="311.79" x2="367.5" y2="311.79" stroke="#1a1a1a" stroke-width="0.95"/>
<line x1="179.4" y1="321.45" x2="367.5" y2="321.45" stroke="#1a1a1a" stroke-width="0.95"/>
<line x1="179.4" y1="331.12" x2="367.5" y2="331.12" stroke="#1a1a1a" stroke-width="0.95"/>
<line x1="179.4" y1="340.78" x2="367.5" y2="340.78" stroke="#1a1a1a" stroke-width="0.95"/>
<line x1="179.4" y1="350.44" x2="367.5" y2="350.44" stroke="#1a1a1a" stroke-width="0.95"/>
<text x="192.95" y="223.6" font-size="6.9" text-anchor="middle" font-weight="normal" fill="#222" stroke="#222" stroke-width="0.14" textLength="18.8" lengthAdjust="spacingAndGlyphs">Marker</text>
<text x="286.3" y="214.7" font-size="6" text-anchor="middle" font-weight="bold" fill="#111" >Wilcoxon test</text>
<text x="219" y="228.2" font-size="6" text-anchor="middle" font-weight="bold" fill="#111" >n</text>
<text x="254.3" y="224.8" font-size="5.3" text-anchor="middle" font-weight="bold" fill="#111" >TIM3+ PD+ vs</text>
<text x="254.3" y="230.7" font-size="5.3" text-anchor="middle" font-weight="bold" fill="#111" >TIM3- PD1-</text>
<text x="299.75" y="224.8" font-size="5.3" text-anchor="middle" font-weight="bold" fill="#111" >TIM3+ PD1+ vs</text>
<text x="299.75" y="230.7" font-size="5.3" text-anchor="middle" font-weight="bold" fill="#111" >TIM3- PD1+</text>
<text x="344.95" y="224.8" font-size="5.3" text-anchor="middle" font-weight="bold" fill="#111" >TIM3- PD1+ vs</text>
<text x="344.95" y="230.7" font-size="5.3" text-anchor="middle" font-weight="bold" fill="#111" >TIM3- PD1-</text>
<text x="181" y="242.4" font-size="6.4" text-anchor="start" font-weight="normal" fill="#222" stroke="#222" stroke-width="0.14" >CD39</text>
<text x="219" y="242.4" font-size="6.4" text-anchor="middle" font-weight="normal" fill="#222" stroke="#222" stroke-width="0.14" >6</text>
<text x="181" y="252.06" font-size="6.4" text-anchor="start" font-weight="normal" fill="#222" stroke="#222" stroke-width="0.14" >LAG3</text>
<text x="219" y="252.06" font-size="6.4" text-anchor="middle" font-weight="normal" fill="#222" stroke="#222" stroke-width="0.14" >7</text>
<text x="181" y="261.72" font-size="6.4" text-anchor="start" font-weight="normal" fill="#222" stroke="#222" stroke-width="0.14" >TIGIT</text>
<text x="219" y="261.72" font-size="6.4" text-anchor="middle" font-weight="normal" fill="#222" stroke="#222" stroke-width="0.14" >7</text>
<text x="181" y="271.38" font-size="6.4" text-anchor="start" font-weight="normal" fill="#222" stroke="#222" stroke-width="0.14" >HLA-DR</text>
<text x="219" y="271.38" font-size="6.4" text-anchor="middle" font-weight="normal" fill="#222" stroke="#222" stroke-width="0.14" >14</text>
<text x="181" y="281.05" font-size="6.4" text-anchor="start" font-weight="normal" fill="#222" stroke="#222" stroke-width="0.14" >Eomes</text>
<text x="219" y="281.05" font-size="6.4" text-anchor="middle" font-weight="normal" fill="#222" stroke="#222" stroke-width="0.14" >13</text>
<text x="181" y="290.71" font-size="6.4" text-anchor="start" font-weight="normal" fill="#222" stroke="#222" stroke-width="0.14" >CD57</text>
<text x="219" y="290.71" font-size="6.4" text-anchor="middle" font-weight="normal" fill="#222" stroke="#222" stroke-width="0.14" >15</text>
<text x="181" y="300.37" font-size="6.4" text-anchor="start" font-weight="normal" fill="#222" stroke="#222" stroke-width="0.14" >CTLA-4</text>
<text x="219" y="300.37" font-size="6.4" text-anchor="middle" font-weight="normal" fill="#222" stroke="#222" stroke-width="0.14" >11</text>
<text x="181" y="310.03" font-size="6.4" text-anchor="start" font-weight="normal" fill="#222" stroke="#222" stroke-width="0.14" >Granz B</text>
<text x="219" y="310.03" font-size="6.4" text-anchor="middle" font-weight="normal" fill="#222" stroke="#222" stroke-width="0.14" >10</text>
<text x="181" y="319.69" font-size="6.4" text-anchor="start" font-weight="normal" fill="#222" stroke="#222" stroke-width="0.14" >CD38</text>
<text x="219" y="319.69" font-size="6.4" text-anchor="middle" font-weight="normal" fill="#222" stroke="#222" stroke-width="0.14" >16</text>
<text x="181" y="329.35" font-size="6.4" text-anchor="start" font-weight="normal" fill="#222" stroke="#222" stroke-width="0.14" >2B4</text>
<text x="219" y="329.35" font-size="6.4" text-anchor="middle" font-weight="normal" fill="#222" stroke="#222" stroke-width="0.14" >13</text>
<text x="181" y="339.02" font-size="6.4" text-anchor="start" font-weight="normal" fill="#222" stroke="#222" stroke-width="0.14" >Perforin</text>
<text x="219" y="339.02" font-size="6.4" text-anchor="middle" font-weight="normal" fill="#222" stroke="#222" stroke-width="0.14" >10</text>
<text x="181" y="348.68" font-size="6.4" text-anchor="start" font-weight="normal" fill="#222" stroke="#222" stroke-width="0.14" >PD-L1</text>
<text x="219" y="348.68" font-size="6.4" text-anchor="middle" font-weight="normal" fill="#222" stroke="#222" stroke-width="0.14" >16</text>
<text x="181" y="358.34" font-size="6.4" text-anchor="start" font-weight="normal" fill="#222" stroke="#222" stroke-width="0.14" >Ki67</text>
<text x="219" y="358.34" font-size="6.4" text-anchor="middle" font-weight="normal" fill="#222" stroke="#222" stroke-width="0.14" >11</text>
<rect x="0.5" y="0.5" width="519" height="367" fill="none" stroke="#000" stroke-width="1.2"/>
</svg></body></html>
